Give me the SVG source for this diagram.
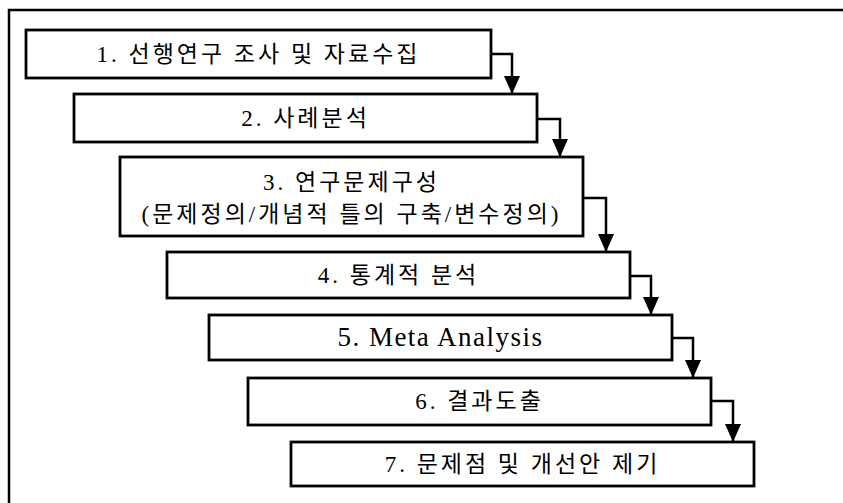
<svg xmlns="http://www.w3.org/2000/svg" width="843" height="503" viewBox="0 0 843 503">
  <defs>
    <marker id="arr" markerUnits="userSpaceOnUse" viewBox="0 0 18 16" refX="18" refY="8" markerWidth="18" markerHeight="16" orient="auto">
      <path d="M0,0 L18,8 L0,16 z" fill="#000"/>
    </marker>
    <style>
      .box { fill: #fff; stroke: #000; stroke-width: 2.8; }
      .frame { fill: none; stroke: #000; stroke-width: 2.5; }
      .conn { fill: none; stroke: #000; stroke-width: 2.5; marker-end: url(#arr); }
      .lbl { font-family: "Liberation Serif", "Noto Sans CJK KR", serif; font-size: 23px; fill: #000; text-anchor: middle; letter-spacing: 3px; }
      .lat { font-size: 27px; letter-spacing: 1.5px; }
    </style>
  </defs>
  <rect width="843" height="503" fill="#fff"/>
  <path class="frame" d="M9,503 L9,10 L843,10"/>

  <g id="connectors">
    <path class="conn" d="M491,54 L512,54 L512,94"/>
    <path class="conn" d="M537,119 L560,119 L560,157"/>
    <path class="conn" d="M583,198 L606,198 L606,252"/>
    <path class="conn" d="M630,276 L651,276 L651,315"/>
    <path class="conn" d="M672,338 L693,338 L693,378"/>
    <path class="conn" d="M711,401 L733,401 L733,442"/>
  </g>

  <g id="n1">
    <rect class="box" x="26" y="30" width="465" height="48"/>
    <text class="lbl" x="258.5" y="62">1. 선행연구 조사 및 자료수집</text>
  </g>
  <g id="n2">
    <rect class="box" x="74" y="94" width="463" height="48"/>
    <text class="lbl" x="305.5" y="126">2. 사례분석</text>
  </g>
  <g id="n3">
    <rect class="box" x="120" y="157" width="463" height="79"/>
    <text class="lbl" x="351.5" y="190">3. 연구문제구성</text>
    <text class="lbl" x="351.5" y="222">(문제정의/개념적 틀의 구축/변수정의)</text>
  </g>
  <g id="n4">
    <rect class="box" x="167" y="252" width="463" height="46"/>
    <text class="lbl" x="398.5" y="283">4. 통계적 분석</text>
  </g>
  <g id="n5">
    <rect class="box" x="209" y="315" width="463" height="45"/>
    <text class="lbl lat" x="440.5" y="346">5. Meta Analysis</text>
  </g>
  <g id="n6">
    <rect class="box" x="248" y="378" width="463" height="47"/>
    <text class="lbl" x="479.5" y="409">6. 결과도출</text>
  </g>
  <g id="n7">
    <rect class="box" x="291" y="442" width="463" height="44"/>
    <text class="lbl" x="522.5" y="472">7. 문제점 및 개선안 제기</text>
  </g>
</svg>
